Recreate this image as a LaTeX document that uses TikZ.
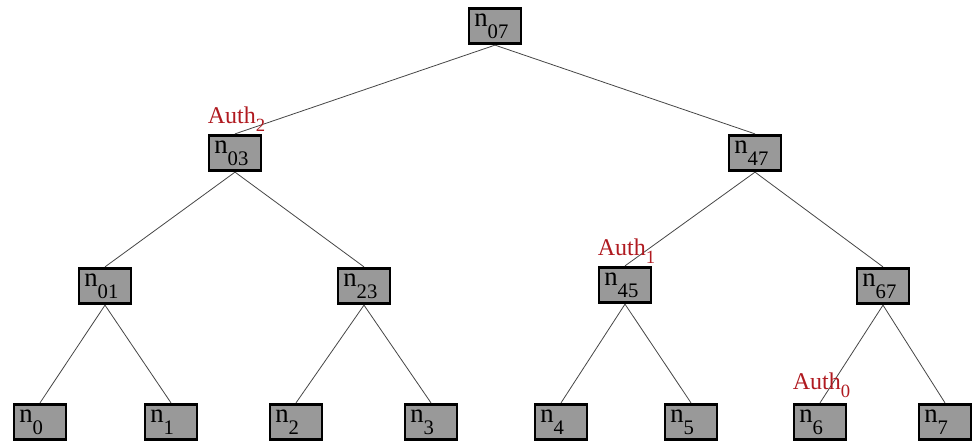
\documentclass[tikz,border=0pt]{standalone}
\usepackage{fontspec}
\setmainfont{Liberation Serif}
\usepackage{xcolor}
\usepackage{tikz}

\definecolor{authred}{RGB}{176,26,32}
% node text: strut keeps the baseline on the node centre
\newcommand{\nlab}[1]{\rule[-10pt]{0pt}{20pt}\smash{n\raisebox{-9pt}{\fontsize{15.5}{15.5}\selectfont #1}}}
\newcommand{\alab}[1]{Auth\raisebox{-6pt}{\fontsize{14}{14}\selectfont #1}}

\begin{document}
\begin{tikzpicture}[x=0.75pt,y=0.75pt,yscale=-1,xscale=1,
  tnode/.style={draw,line width=2.2pt,fill={rgb,255:red,153;green,153;blue,153},
    minimum width=39pt,minimum height=26.5pt,text width=31pt,align=left,
    inner sep=0pt,font=\fontsize{20}{20}\selectfont},
  authlab/.style={anchor=base west,inner sep=0pt,text=authred,
    font=\fontsize{18}{18}\selectfont},
  tedge/.style={draw={rgb,255:red,70;green,70;blue,70},line width=0.6pt}]
\useasboundingbox (0,0) rectangle (972,443);
% Root
\node [tnode] (n07) at (495,26) {\nlab{07}};
% Level 1
\node [tnode] (n03) at (235,153) {\nlab{03}};
\node [tnode] (n47) at (755,153) {\nlab{47}};
% Level 2
\node [tnode] (n01) at (105,286) {\nlab{01}};
\node [tnode] (n23) at (364,286) {\nlab{23}};
\node [tnode] (n45) at (625,285) {\nlab{45}};
\node [tnode] (n67) at (883,286) {\nlab{67}};
% Leaves
\node [tnode] (n0) at (40,422) {\nlab{0}};
\node [tnode] (n1) at (171,422) {\nlab{1}};
\node [tnode] (n2) at (296,422) {\nlab{2}};
\node [tnode] (n3) at (431,422) {\nlab{3}};
\node [tnode] (n4) at (561,422) {\nlab{4}};
\node [tnode] (n5) at (691,422) {\nlab{5}};
\node [tnode] (n6) at (820,422) {\nlab{6}};
\node [tnode] (n7) at (945,422) {\nlab{7}};
% Tree edges
\foreach \p/\c in {n07/n03,n07/n47,n03/n01,n03/n23,n47/n45,n47/n67,
  n01/n0,n01/n1,n23/n2,n23/n3,n45/n4,n45/n5,n67/n6,n67/n7}
  \draw [tedge] (\p.south) -- (\c.north);
% Authentication path labels
\node [authlab] (auth2) at ([yshift=-8pt]n03.north west) {\alab{2}};
\node [authlab] (auth1) at ([yshift=-8pt]n45.north west) {\alab{1}};
\node [authlab] (auth0) at ([yshift=-10pt]n6.north west) {\alab{0}};
\end{tikzpicture}
\end{document}
